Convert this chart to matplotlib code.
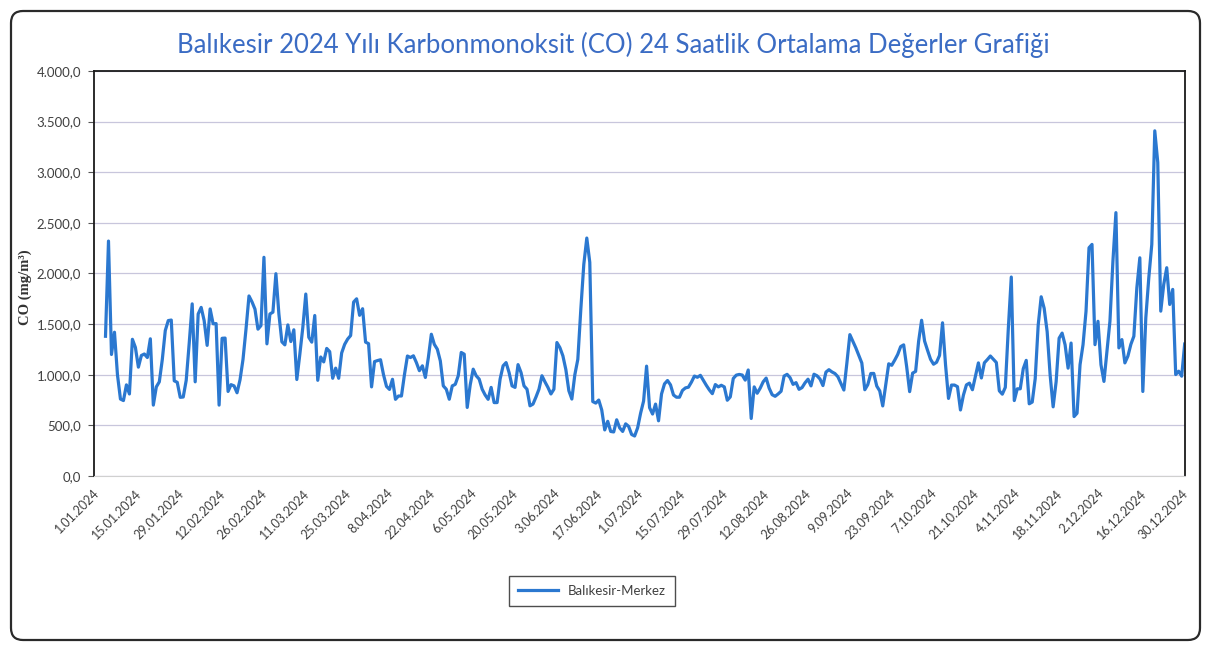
import numpy as np
import pandas as pd
import matplotlib
matplotlib.use('Agg')
import matplotlib.pyplot as plt
from matplotlib.patches import FancyBboxPatch

plt.rcParams['font.family'] = ['Lato', 'DejaVu Sans']

# Günlük CO ortalamaları (1 Ocak 2024'ten başlar, ilk günler ölçüm yok)
baslangic = '2024-01-01'
co_degerleri = [
    np.nan, np.nan, np.nan, np.nan, 1380, 2320, 1200, 1420, 1000, 760,
    745, 900, 810, 1350, 1270, 1075, 1190, 1205, 1170, 1355,
    700, 880, 930, 1150, 1437, 1535, 1540, 940, 925, 777,
    780, 945, 1310, 1700, 930, 1600, 1665, 1535, 1290, 1650,
    1503, 1505, 700, 1360, 1362, 835, 902, 890, 822, 950,
    1152, 1450, 1778, 1720, 1648, 1450, 1485, 2160, 1305, 1600,
    1618, 1998, 1600, 1325, 1295, 1492, 1328, 1444, 953, 1200,
    1466, 1797, 1370, 1322, 1585, 945, 1175, 1127, 1260, 1228,
    965, 1065, 965, 1215, 1300, 1352, 1387, 1718, 1750, 1587,
    1652, 1322, 1307, 880, 1130, 1140, 1148, 1000, 885, 855,
    955, 757, 790, 790, 1000, 1185, 1170, 1187, 1120, 1040,
    1088, 973, 1170, 1400, 1300, 1252, 1137, 890, 857, 758,
    890, 905, 990, 1220, 1203, 677, 900, 1055, 990, 957,
    857, 800, 757, 875, 725, 725, 957, 1088, 1120, 1022,
    890, 875, 1100, 1022, 890, 857, 693, 710, 780, 857,
    990, 930, 875, 810, 857, 1318, 1268, 1187, 1050, 842,
    760, 1000, 1152, 1645, 2090, 2350, 2110, 735, 720, 750,
    652, 455, 540, 440, 435, 555, 475, 440, 515, 490,
    410, 395, 475, 620, 740, 1085, 675, 612, 710, 545,
    810, 910, 943, 900, 800, 778, 778, 845, 870, 877,
    927, 987, 975, 994, 944, 895, 850, 813, 903, 880,
    896, 880, 748, 781, 963, 996, 1003, 997, 947, 1047,
    568, 880, 817, 867, 930, 967, 868, 803, 787, 810,
    837, 987, 1004, 971, 905, 922, 856, 873, 920, 956,
    890, 1005, 990, 958, 893, 1026, 1050, 1028, 1012, 980,
    915, 849, 1115, 1396, 1330, 1265, 1190, 1116, 852, 902,
    1012, 1013, 888, 840, 692, 900, 1108, 1093, 1144, 1200,
    1278, 1295, 1080, 833, 1016, 1033, 1330, 1538, 1332, 1240,
    1152, 1104, 1123, 1191, 1513, 1100, 766, 898, 898, 882,
    652, 800, 900, 917, 852, 985, 1117, 968, 1118, 1150,
    1185, 1153, 1121, 841, 808, 875, 1453, 1965, 745, 861,
    861, 1059, 1142, 713, 730, 961, 1490, 1770, 1656, 1425,
    996, 683, 931, 1361, 1411, 1296, 1065, 1313, 587, 620,
    1099, 1297, 1627, 2254, 2287, 1297, 1528, 1099, 934, 1231,
    1528, 2122, 2601, 1265, 1347, 1117, 1183, 1300, 1380, 1858,
    2155, 835, 1562, 1958, 2287, 3409, 3096, 1628, 1892, 2057,
    1694, 1843, 1002, 1035, 986, 1303,
]

tarih_etiketleri = ['1.01.2024', '15.01.2024', '29.01.2024', '12.02.2024', '26.02.2024',
                    '11.03.2024', '25.03.2024', '8.04.2024', '22.04.2024', '6.05.2024',
                    '20.05.2024', '3.06.2024', '17.06.2024', '1.07.2024', '15.07.2024',
                    '29.07.2024', '12.08.2024', '26.08.2024', '9.09.2024', '23.09.2024',
                    '7.10.2024', '21.10.2024', '4.11.2024', '18.11.2024', '2.12.2024',
                    '16.12.2024', '30.12.2024']
y_degerleri = [0, 500, 1000, 1500, 2000, 2500, 3000, 3500, 4000]
y_etiketleri = ['0,0', '500,0', '1.000,0', '1.500,0', '2.000,0',
                '2.500,0', '3.000,0', '3.500,0', '4.000,0']

gunler = pd.date_range(baslangic, periods=len(co_degerleri), freq='D')
etiket_gunleri = pd.to_datetime(tarih_etiketleri, format='%d.%m.%Y')

fig = plt.figure(figsize=(12.07, 6.56), dpi=100)

# dış çerçeve
cerceve = FancyBboxPatch((0.11, 0.16), 11.89, 6.29,
                         boxstyle='round,pad=0,rounding_size=0.12',
                         transform=fig.dpi_scale_trans, fill=False,
                         edgecolor='#2a2a2a', linewidth=1.6)
fig.patches.append(cerceve)

ax = fig.add_axes([0.0775, 0.2744, 0.904, 0.6174])
ax.plot(gunler, co_degerleri, color='#2b78d0', linewidth=2.3, label='Balıkesir-Merkez')

ax.set_xlim(gunler[0], gunler[-1])
ax.set_ylim(0, 4000)
ax.set_yticks(y_degerleri, y_etiketleri)
ax.set_xticks(etiket_gunleri, tarih_etiketleri, rotation=45, ha='right', va='top',
              rotation_mode='anchor')
ax.tick_params(axis='y', labelsize=9.5, labelcolor='#404040', length=4, color='#555555', pad=5)
ax.tick_params(axis='x', labelsize=9, labelcolor='#404040', length=0, pad=8)
ax.grid(axis='y', color='#c8c6dc', linewidth=0.9)
ax.set_axisbelow(True)

for s in ['left', 'top', 'right']:
    ax.spines[s].set_color('#1a1a1a')
    ax.spines[s].set_linewidth(1.3)
ax.spines['bottom'].set_color('#d0d0d0')
ax.spines['bottom'].set_linewidth(0.8)

fig.text(613 / 1207, 1 - 45 / 656,
         'Balıkesir 2024 Yılı Karbonmonoksit (CO) 24 Saatlik Ortalama Değerler Grafiği',
         ha='center', va='center', fontsize=18.5, color='#3b6cc4')
fig.text(25 / 1207, 1 - 287 / 656, 'CO (mg/m³)', rotation=90, ha='center', va='center',
         fontsize=10.5, fontweight='bold', color='#333333',
         family=['Liberation Serif', 'DejaVu Serif'])

leg = fig.legend(loc='center', bbox_to_anchor=(592 / 1207, 1 - 591 / 656),
                 fontsize=9.5, frameon=True, fancybox=False, handlelength=3,
                 borderpad=0.7, labelcolor='#404040')
leg.get_frame().set_edgecolor('#222222')
leg.get_frame().set_linewidth(1.0)

fig.savefig('out.png', dpi=100)
